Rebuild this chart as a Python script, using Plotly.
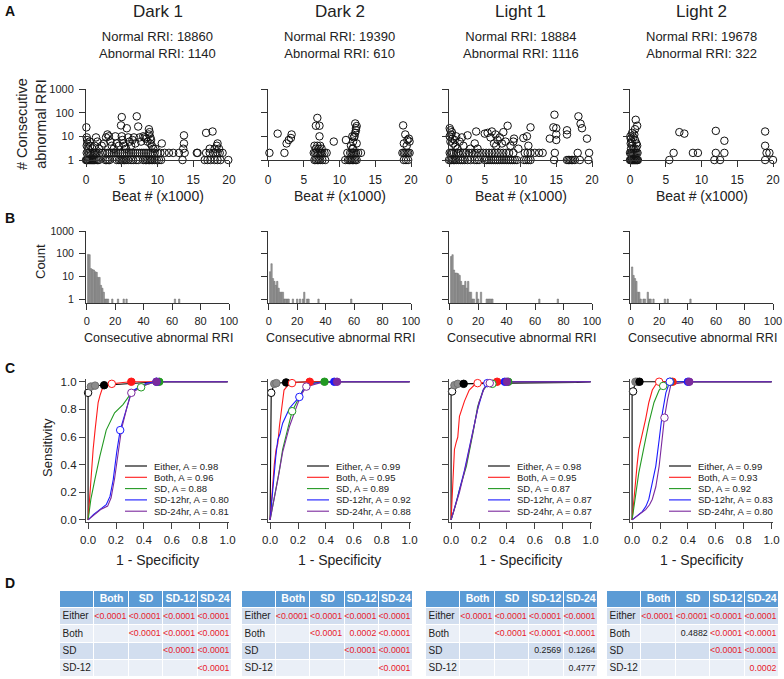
import plotly.graph_objects as go

W, H = 784, 679
FONT = "Liberation Sans, Arial, sans-serif"

# ---------------- data ----------------
conditions = ["Dark 1", "Dark 2", "Light 1", "Light 2"]
normal_rri = [18860, 19390, 18884, 19678]
abnormal_rri = [1140, 610, 1116, 322]

# Panel A: beat position (x1000) of abnormal runs and run length
d1_ones = [0.0, 0.1, 0.2, 0.3, 0.45, 0.6, 0.75, 0.9, 1.05, 1.2, 1.4, 1.6, 1.8, 2.7, 2.9, 3.1, 3.3, 4.3, 4.6,
           4.8, 5.0, 5.2, 5.4, 5.6, 5.9, 6.3, 6.6, 7.0, 7.3, 8.0, 8.3, 8.5, 8.7, 8.9, 9.1, 9.3, 9.6, 9.9,
           10.2, 10.5, 13.5, 16.6, 17.0, 17.4, 18.0, 18.4, 18.8, 19.9]
d1_twos = [0.1, 0.3, 0.5, 0.7, 0.9, 1.1, 1.3, 1.5, 1.9, 2.3, 2.7, 3.0, 3.3, 3.6, 3.9, 4.2, 4.5, 4.8, 5.1,
           5.4, 5.7, 6.0, 6.3, 6.6, 6.9, 7.2, 7.5, 7.8, 8.1, 8.4, 8.7, 9.0, 9.3, 9.6, 10.0, 10.4, 11.0,
           11.6, 12.2, 13.0, 13.8, 15.5, 15.6, 16.8, 17.3, 17.8, 18.1, 18.4, 18.7, 19.1]
d1_other_x = [0.05, 0.1, 0.15, 0.2, 0.1, 0.3, 0.5, 0.6, 0.9, 1.2, 1.4, 1.6, 1.8, 2.2, 2.5, 2.8, 3.0, 3.2,
              3.4, 3.6, 3.9, 4.1, 4.3, 4.6, 4.9, 5.0, 5.0, 5.1, 5.2, 5.4, 5.6, 5.7, 5.9, 6.1, 6.3, 6.5,
              6.7, 6.9, 7.1, 7.3, 7.5, 7.7, 8.0, 8.2, 8.4, 8.6, 8.8, 8.9, 8.8, 9.0, 9.1, 9.0, 9.2, 9.4,
              9.7, 10.6, 13.7, 13.7, 13.6, 16.8, 17.7, 17.3, 18.0, 18.4, 18.3, 18.6]
d1_other_y = [24, 9, 7, 5, 4, 3, 6, 4, 3, 4, 9, 6, 3, 4, 5, 9, 12, 10, 6, 4, 3, 10, 5, 4, 29, 65, 10, 7,
              5, 4, 3, 22, 9, 6, 4, 7, 9, 5, 70, 26, 9, 6, 10, 9, 8, 6, 20, 15, 12, 9, 7, 5, 4, 3, 3, 5,
              11, 5, 3, 14, 16, 3, 3, 5, 4, 3]

d2_ones = [6.5, 6.7, 6.9, 7.1, 7.3, 7.6, 8.0, 10.8, 11.2, 11.4, 11.6, 11.8, 12.0, 12.2, 12.4, 19.0, 19.3, 19.6]
d2_twos = [0.2, 2.3, 6.4, 6.6, 6.8, 7.0, 7.2, 7.4, 7.6, 7.9, 8.2, 11.1, 11.5, 11.7, 11.9, 12.1, 12.3, 12.6,
           13.0, 18.8, 19.0, 19.2, 19.4, 19.6, 19.8]
d2_other_x = [1.35, 2.6, 2.9, 3.2, 3.3, 6.9, 6.7, 7.2, 7.2, 6.5, 6.7, 6.9, 7.1, 7.3, 7.5, 9.2, 10.9, 11.6,
              11.8, 11.9, 12.0, 12.1, 11.8, 12.2, 12.3, 12.2, 12.4, 12.3, 11.9, 12.4, 18.9, 19.2, 19.0,
              19.5, 19.7, 19.4, 19.8]
d2_other_y = [13, 5, 7, 8.5, 12, 60, 28, 28, 10, 4, 3, 4, 3, 4, 3, 6, 7, 4, 3, 6, 9, 10, 10, 14, 22, 35,
              27, 18, 3, 5, 29, 12, 5, 7, 8, 4, 6]

l1_ones = [0.0, 0.2, 0.4, 0.6, 0.8, 1.0, 1.3, 1.6, 1.9, 2.2, 2.6, 3.0, 3.6, 3.9, 4.2, 5.0, 5.3, 5.6, 5.9,
           6.2, 6.5, 6.8, 7.1, 7.4, 7.7, 8.0, 8.3, 8.6, 8.9, 9.2, 9.5, 10.5, 10.8, 11.1, 11.4, 14.7, 16.5,
           16.7, 16.9, 17.1, 17.3, 17.6, 18.3, 19.5]
l1_twos = [0.1, 0.3, 0.5, 0.7, 1.0, 1.3, 1.6, 2.0, 2.4, 2.8, 3.2, 3.6, 4.0, 4.4, 4.8, 5.2, 5.6, 6.0, 6.4,
           6.8, 7.2, 7.6, 8.0, 8.4, 9.0, 10.6, 11.0, 11.4, 12.0, 12.6, 13.1, 14.8, 18.0, 19.6]
l1_other_x = [14.75, 18.1, 18.4, 18.6, 8.2, 11.4, 14.6, 15.0, 16.5, 16.5, 19.3, 15.0, 15.0, 14.1, 10.4,
              10.9, 11.1, 0.1, 0.2, 0.4, 0.3, 0.1, 0.5, 0.2, 0.6, 0.8, 1.0, 0.9, 1.2, 1.5, 1.8, 2.0, 2.6,
              3.0, 3.8, 3.6, 4.0, 5.0, 5.4, 5.8, 6.0, 6.3, 6.5, 6.8, 6.6, 7.1, 7.4, 7.6, 7.9, 8.6, 9.1,
              9.0, 9.7]
l1_other_y = [82, 70, 34, 22, 28, 24, 24, 22, 18, 12, 8, 12, 7, 8, 8.5, 10, 4, 22, 18, 15, 12, 10, 8, 6,
              5, 7, 10, 4, 3, 6, 9, 4, 11, 3, 16, 5, 3, 13, 14, 9, 16, 5, 12, 7, 4, 9, 5, 15, 6, 4, 8, 6, 3]

l2_ones = [0.0, 0.1, 0.2, 0.3, 0.4, 0.5, 0.6, 0.7, 0.8, 0.9, 1.0, 1.1, 5.5, 11.8, 12.6, 18.9, 20.0]
l2_twos = [0.0, 0.15, 0.3, 0.45, 0.6, 0.75, 0.9, 1.05, 6.1, 8.8, 9.5, 12.0, 13.2, 19.1, 19.5]
l2_other_x = [0.05, 0.1, 0.2, 0.1, 0.3, 0.15, 0.5, 0.6, 0.3, 0.8, 1.0, 0.7, 0.9, 0.8, 1.0, 0.5, 0.7, 6.9,
              7.6, 12.0, 13.2, 18.9, 18.9]
l2_other_y = [10, 8, 6, 5, 4, 3, 9, 12, 14, 50, 28, 7, 5, 3, 4, 3, 20, 15, 13, 17, 6.5, 16, 4]

# Panel B: histogram of consecutive abnormal RRI run lengths
d1_len = [1, 2, 3, 4, 5, 6, 7, 8, 9, 10, 11, 12, 13, 14, 15, 18, 22, 26, 28, 62, 65]
d1_cnt = [93, 90, 22, 20, 19, 16, 15, 9, 9, 4, 3, 2, 1, 1, 1, 1, 1, 1, 1, 1, 1]
d2_len = [1, 2, 3, 4, 5, 6, 7, 8, 9, 10, 11, 12, 13, 14, 17, 20, 22, 24, 25, 27, 28, 35, 58]
d2_cnt = [16, 36, 8, 6, 4, 6, 3, 2, 2, 2, 1, 1, 1, 1, 1, 1, 1, 1, 2, 1, 1, 1, 1]
l1_len = [1, 2, 3, 4, 5, 6, 7, 8, 9, 10, 11, 12, 13, 14, 15, 16, 17, 19, 20, 22, 26, 27, 28, 29, 30, 63, 76]
l1_cnt = [75, 90, 19, 14, 14, 13, 11, 6, 4, 4, 6, 3, 6, 2, 2, 1, 1, 2, 1, 2, 1, 1, 1, 1, 1, 1, 1]
l2_len = [1, 2, 3, 4, 5, 6, 7, 9, 10, 12, 13, 14, 16, 24, 26, 42]
l2_cnt = [26, 11, 8, 6, 2, 2, 1, 1, 1, 2, 1, 1, 1, 1, 1, 1]

# Panel C: ROC curves (1 - specificity, sensitivity); order Either, Both, SD, SD-12hr, SD-24hr
series_names = ["Either", "Both", "SD", "SD-12hr", "SD-24hr"]
auc = [[0.98, 0.96, 0.88, 0.80, 0.81],
       [0.99, 0.95, 0.89, 0.92, 0.88],
       [0.98, 0.95, 0.87, 0.87, 0.87],
       [0.99, 0.93, 0.92, 0.83, 0.80]]

d1_fpr = [[0, 0, 0.02, 0.05, 0.115, 0.3, 0.5, 1.0],
          [0, 0.012, 0.025, 0.036, 0.05, 0.06, 0.072, 0.085, 0.1, 0.13, 0.17, 0.25, 0.31, 1.0],
          [0, 0.02, 0.048, 0.084, 0.13, 0.19, 0.25, 0.31, 0.37, 0.45, 0.51, 1.0],
          [0, 0.04, 0.084, 0.13, 0.157, 0.18, 0.205, 0.23, 0.28, 0.31, 0.42, 0.49, 1.0],
          [0, 0.05, 0.09, 0.14, 0.165, 0.19, 0.215, 0.24, 0.28, 0.31, 0.42, 0.49, 1.0]]
d1_tpr = [[0, 0.92, 0.965, 0.972, 0.975, 0.985, 1.0, 1.0],
          [0, 0.2, 0.4, 0.51, 0.65, 0.75, 0.85, 0.9, 0.945, 0.97, 0.985, 0.995, 1.0, 1.0],
          [0, 0.15, 0.29, 0.46, 0.65, 0.775, 0.835, 0.92, 0.965, 0.99, 1.0, 1.0],
          [0, 0.04, 0.075, 0.11, 0.17, 0.29, 0.49, 0.65, 0.82, 0.93, 0.99, 1.0, 1.0],
          [0, 0.04, 0.075, 0.1, 0.16, 0.3, 0.5, 0.66, 0.82, 0.92, 0.98, 1.0, 1.0]]
d2_fpr = [[0, 0.008, 0.03, 0.045, 0.115, 0.3, 1.0],
          [0, 0.01, 0.02, 0.03, 0.043, 0.055, 0.067, 0.087, 0.1, 0.14, 0.157, 0.284, 1.0],
          [0, 0.02, 0.043, 0.065, 0.09, 0.127, 0.158, 0.2, 0.25, 0.3, 0.39, 1.0],
          [0, 0.01, 0.024, 0.04, 0.055, 0.07, 0.09, 0.14, 0.21, 0.26, 0.35, 0.46, 1.0],
          [0, 0.03, 0.055, 0.09, 0.14, 0.19, 0.22, 0.26, 0.35, 0.48, 1.0]]
d2_tpr = [[0, 0.92, 0.985, 0.99, 0.995, 1.0, 1.0],
          [0, 0.15, 0.29, 0.4, 0.51, 0.55, 0.68, 0.82, 0.94, 0.99, 0.995, 1.0, 1.0],
          [0, 0.1, 0.22, 0.35, 0.51, 0.65, 0.787, 0.87, 0.97, 0.99, 1.0, 1.0],
          [0, 0.12, 0.29, 0.45, 0.58, 0.62, 0.7, 0.81, 0.89, 0.98, 0.995, 1.0, 1.0],
          [0, 0.15, 0.29, 0.49, 0.68, 0.82, 0.9, 0.965, 0.99, 1.0, 1.0]]
l1_fpr = [[0, 0.0, 0.007, 0.024, 0.048, 0.09, 0.4, 0.9, 1.0],
          [0, 0.006, 0.012, 0.024, 0.036, 0.048, 0.06, 0.08, 0.096, 0.13, 0.17, 0.19, 0.33, 1.0],
          [0, 0.03, 0.06, 0.11, 0.157, 0.19, 0.23, 0.26, 0.296, 0.41, 1.0],
          [0, 0.048, 0.096, 0.145, 0.19, 0.23, 0.26, 0.385, 1.0],
          [0, 0.06, 0.11, 0.157, 0.2, 0.24, 0.277, 0.4, 1.0]]
l1_tpr = [[0, 0.9, 0.93, 0.975, 0.985, 0.985, 0.99, 0.995, 1.0],
          [0, 0.15, 0.29, 0.51, 0.56, 0.6, 0.75, 0.82, 0.86, 0.94, 0.98, 0.99, 1.0, 1.0],
          [0, 0.1, 0.22, 0.39, 0.63, 0.82, 0.94, 0.975, 0.985, 1.0, 1.0],
          [0, 0.17, 0.36, 0.58, 0.8, 0.94, 0.99, 1.0, 1.0],
          [0, 0.2, 0.41, 0.63, 0.85, 0.96, 0.99, 1.0, 1.0]]
l2_fpr = [[0, 0.0, 0.007, 0.024, 0.037, 0.053, 1.0],
          [0, 0.012, 0.024, 0.036, 0.048, 0.06, 0.073, 0.097, 0.12, 0.145, 0.17, 0.194, 0.29, 1.0],
          [0, 0.012, 0.024, 0.048, 0.085, 0.12, 0.157, 0.194, 0.223, 0.274, 1.0],
          [0, 0.04, 0.073, 0.1, 0.12, 0.145, 0.17, 0.194, 0.218, 0.242, 0.266, 0.27, 0.4, 1.0],
          [0, 0.05, 0.097, 0.125, 0.145, 0.17, 0.194, 0.218, 0.232, 0.254, 0.278, 0.41, 1.0]]
l2_tpr = [[0, 0.9, 0.93, 1.0, 1.0, 1.0, 1.0],
          [0, 0.15, 0.27, 0.4, 0.51, 0.56, 0.63, 0.73, 0.85, 0.94, 0.98, 1.0, 1.0, 1.0],
          [0, 0.1, 0.17, 0.34, 0.53, 0.7, 0.85, 0.94, 0.97, 1.0, 1.0],
          [0, 0.03, 0.06, 0.1, 0.15, 0.27, 0.39, 0.58, 0.78, 0.92, 0.99, 1.0, 1.0, 1.0],
          [0, 0.04, 0.075, 0.11, 0.15, 0.24, 0.39, 0.61, 0.74, 0.87, 0.98, 1.0, 1.0]]

# threshold points on the ROC curves: series index and point kind
pt_series = [0, 0, 0, 0, 1, 1, 2, 2, 3, 3, 4, 4]
pt_kind = ["open", "mid", "mid", "filled", "open", "filled", "open", "filled", "open", "filled", "open", "filled"]
d1_pt_x = [0.0, 0.02, 0.05, 0.115, 0.17, 0.31, 0.38, 0.51, 0.23, 0.49, 0.31, 0.49]
d1_pt_y = [0.92, 0.965, 0.972, 0.975, 0.985, 1.0, 0.96, 1.0, 0.65, 1.0, 0.92, 1.0]
d2_pt_x = [0.008, 0.03, 0.045, 0.115, 0.157, 0.284, 0.158, 0.39, 0.21, 0.46, 0.26, 0.48]
d2_pt_y = [0.92, 0.985, 0.99, 0.995, 0.99, 1.0, 0.787, 1.0, 0.89, 1.0, 0.965, 1.0]
l1_pt_x = [0.007, 0.024, 0.048, 0.09, 0.19, 0.33, 0.296, 0.41, 0.26, 0.385, 0.277, 0.40]
l1_pt_y = [0.93, 0.975, 0.985, 0.985, 0.99, 1.0, 0.985, 1.0, 0.99, 1.0, 0.99, 1.0]
l2_pt_x = [0.007, 0.024, 0.037, 0.053, 0.194, 0.29, 0.223, 0.274, 0.27, 0.40, 0.232, 0.41]
l2_pt_y = [0.93, 1.0, 1.0, 1.0, 1.0, 1.0, 0.97, 1.0, 1.0, 1.0, 0.74, 1.0]

# Panel D: pairwise p-values
tbl_cols = ["Both", "SD", "SD-12", "SD-24"]
tbl_rows = ["Either", "Both", "SD", "SD-12"]
p_dark1 = [["<0.0001", "<0.0001", "<0.0001", "<0.0001"],
           ["", "<0.0001", "<0.0001", "<0.0001"],
           ["", "", "<0.0001", "<0.0001"],
           ["", "", "", "<0.0001"]]
p_dark2 = [["<0.0001", "<0.0001", "<0.0001", "<0.0001"],
           ["", "<0.0001", "0.0002", "<0.0001"],
           ["", "", "<0.0001", "<0.0001"],
           ["", "", "", "<0.0001"]]
p_light1 = [["<0.0001", "<0.0001", "<0.0001", "<0.0001"],
            ["", "<0.0001", "<0.0001", "<0.0001"],
            ["", "", "0.2569", "0.1264"],
            ["", "", "", "0.4777"]]
p_light2 = [["<0.0001", "<0.0001", "<0.0001", "<0.0001"],
            ["", "0.4882", "<0.0001", "<0.0001"],
            ["", "", "<0.0001", "<0.0001"],
            ["", "", "", "0.0002"]]

# ---------------- figure ----------------
scatter_sets = [(d1_ones, d1_twos, d1_other_x, d1_other_y), (d2_ones, d2_twos, d2_other_x, d2_other_y),
                (l1_ones, l1_twos, l1_other_x, l1_other_y), (l2_ones, l2_twos, l2_other_x, l2_other_y)]
hist_sets = [(d1_len, d1_cnt), (d2_len, d2_cnt), (l1_len, l1_cnt), (l2_len, l2_cnt)]
roc_sets = [(d1_fpr, d1_tpr), (d2_fpr, d2_tpr), (l1_fpr, l1_tpr), (l2_fpr, l2_tpr)]
pt_sets = [(d1_pt_x, d1_pt_y), (d2_pt_x, d2_pt_y), (l1_pt_x, l1_pt_y), (l2_pt_x, l2_pt_y)]
p_sets = [p_dark1, p_dark2, p_light1, p_light2]

series_colors = ["#000000", "#ff1a1a", "#229922", "#1a1aff", "#7b2a9e"]
AXC = "#333333"
TXT = "#222222"
HEADER_BLUE = "#5b9bd5"
BAND1 = "#d2deef"
BAND2 = "#eaeff7"
RED = "#e8202a"

COL_LEFT = [86, 268, 449, 630]
PW = 143
TABLE_X = [(60, 232), (242, 413), (426, 598), (607, 779)]
TABLE_Y = (591, 677)


def fx(p):
    return p / W


def fy(p):
    return 1 - p / H


def ref(n):
    return "" if n == 1 else str(n)


fig = go.Figure()
layout = dict(template="none", width=W, height=H, margin=dict(l=0, r=0, t=0, b=0, pad=0),
              paper_bgcolor="white", plot_bgcolor="white", showlegend=False,
              font=dict(family=FONT, color=TXT))
annotations = []
shapes = []

log_ticks = [1, 10, 100, 1000]
log_text = ["1", "10", "100", "1000"]


def base_axis(**kw):
    d = dict(showline=True, linecolor=AXC, linewidth=1, ticks="outside", ticklen=6, tickcolor=AXC,
             tickwidth=1, showgrid=False, zeroline=False, automargin=False)
    d.update(kw)
    return d


for c in range(4):
    left = COL_LEFT[c]
    xdom = [fx(left), fx(left + PW)]
    center = left + PW / 2

    # ---- row A ----
    n = c + 1
    ones, twos, ox, oy = scatter_sets[c]
    xs = list(ones) + list(twos) + list(ox)
    ys = [1] * len(ones) + [2] * len(twos) + list(oy)
    fig.add_trace(go.Scatter(x=xs, y=ys, mode="markers", xaxis="x" + ref(n), yaxis="y" + ref(n),
                             cliponaxis=False,
                             marker=dict(symbol="circle-open", size=7.5, color="#111", line=dict(width=1))))
    layout["xaxis" + ref(n)] = base_axis(domain=xdom, anchor="y" + ref(n), range=[0, 20],
                                         tickvals=[0, 5, 10, 15, 20], ticklabelstandoff=3,
                                         tickfont=dict(size=12, color=TXT))
    layout["yaxis" + ref(n)] = base_axis(domain=[fy(160), fy(89)], anchor="x" + ref(n), type="log", range=[0, 3],
                                         tickmode="array", tickvals=log_ticks, ticktext=log_text,
                                         showticklabels=(c == 0), ticklabelstandoff=3,
                                         tickfont=dict(size=11, color=TXT))
    annotations.append(dict(text="Beat # (x1000)", x=fx(center), y=fy(196), xref="paper", yref="paper",
                            showarrow=False, font=dict(size=14), xanchor="center", yanchor="middle"))
    annotations.append(dict(text=conditions[c], x=fx(center), y=fy(11), xref="paper", yref="paper",
                            showarrow=False, font=dict(size=17), xanchor="center", yanchor="middle"))
    annotations.append(dict(text=f"Normal RRI: {normal_rri[c]}<br>Abnormal RRI: {abnormal_rri[c]}",
                            x=fx(center), y=fy(45), xref="paper", yref="paper", showarrow=False,
                            font=dict(size=13), xanchor="center", yanchor="middle"))

    # ---- row B ----
    n = c + 5
    lens, cnts = hist_sets[c]
    fig.add_trace(go.Bar(x=lens, y=cnts, width=0.95, xaxis="x" + ref(n), yaxis="y" + ref(n),
                         marker=dict(color="#a0a0a0", line=dict(color="#666666", width=0.5))))
    layout["xaxis" + ref(n)] = base_axis(domain=xdom, anchor="y" + ref(n), range=[-0.5, 100],
                                         tickvals=[0, 20, 40, 60, 80, 100], ticklabelstandoff=2,
                                         tickfont=dict(size=11, color=TXT))
    layout["yaxis" + ref(n)] = base_axis(domain=[fy(303), fy(231)], anchor="x" + ref(n), type="log",
                                         range=[-0.176, 3], tickmode="array", tickvals=log_ticks,
                                         ticktext=log_text, showticklabels=(c == 0), ticklabelstandoff=3,
                                         tickfont=dict(size=10.5, color=TXT))
    annotations.append(dict(text="Consecutive abnormal RRI", x=fx(center + 1), y=fy(338), xref="paper",
                            yref="paper", showarrow=False, font=dict(size=12.5), xanchor="center",
                            yanchor="middle"))

    # ---- row C ----
    n = c + 9
    fpr, tpr = roc_sets[c]
    for s in range(5):
        fig.add_trace(go.Scatter(x=fpr[s], y=tpr[s], mode="lines", xaxis="x" + ref(n), yaxis="y" + ref(n),
                                 line=dict(color=series_colors[s], width=1.1)))
    px_, py_ = pt_sets[c]
    fills, edges = [], []
    for s, k in zip(pt_series, pt_kind):
        if k == "open":
            fills.append("white")
            edges.append(series_colors[s])
        elif k == "mid":
            fills.append("#8c8c8c")
            edges.append("#707070")
        else:
            fills.append(series_colors[s])
            edges.append(series_colors[s])
    fig.add_trace(go.Scatter(x=px_, y=py_, mode="markers", xaxis="x" + ref(n), yaxis="y" + ref(n),
                             cliponaxis=False,
                             marker=dict(size=7.5, color=fills, line=dict(color=edges, width=1))))
    layout["xaxis" + ref(n)] = base_axis(domain=xdom, anchor="y" + ref(n), range=[-0.015, 1.01],
                                         tickvals=[0, 0.2, 0.4, 0.6, 0.8, 1.0], tickformat=".1f",
                                         linecolor="#444", linewidth=1.3, tickcolor="#444", ticklabelstandoff=1,
                                         tickfont=dict(size=11.5, color=TXT))
    layout["yaxis" + ref(n)] = base_axis(domain=[fy(522), fy(379)], anchor="x" + ref(n), range=[-0.015, 1.02],
                                         tickvals=[0, 0.2, 0.4, 0.6, 0.8, 1.0], tickformat=".1f",
                                         showticklabels=(c == 0), linecolor="#444", linewidth=1.3,
                                         tickcolor="#444", tickfont=dict(size=11.5, color=TXT))
    annotations.append(dict(text="1 - Specificity", x=fx(center), y=fy(560), xref="paper", yref="paper",
                            showarrow=False, font=dict(size=14), xanchor="center", yanchor="middle"))
    # in-panel legend
    for s in range(5):
        yy = fy(466 + 11.3 * s)
        shapes.append(dict(type="line", xref="x" + ref(n) + " domain", yref="paper", x0=39 / PW, x1=61 / PW,
                           y0=yy, y1=yy, line=dict(color=series_colors[s], width=1.1)))
        annotations.append(dict(text=f"{series_names[s]}, A = {auc[c][s]:.2f}", xref="x" + ref(n) + " domain",
                                yref="paper", x=66 / PW, y=yy, xanchor="left", yanchor="middle",
                                showarrow=False, font=dict(size=9.5)))

    # ---- row D: p-value table drawn as a heatmap grid with text ----
    n = c + 13
    pv = p_sets[c]
    tl, tr = TABLE_X[c]
    ncol = len(tbl_cols) + 1
    nrow = len(tbl_rows) + 1
    zgrid = [[2] * ncol] + [[r % 2] * ncol for r in range(len(tbl_rows))]
    fig.add_trace(go.Heatmap(z=zgrid, x=list(range(ncol)), y=list(range(nrow)), xaxis="x" + ref(n),
                             yaxis="y" + ref(n), zmin=0, zmax=2, showscale=False, xgap=1, ygap=1,
                             hoverinfo="skip",
                             colorscale=[[0, BAND1], [0.5, BAND2], [1, HEADER_BLUE]]))
    fig.add_trace(go.Scatter(x=list(range(1, ncol)), y=[0] * len(tbl_cols), mode="text",
                             text=[f"<b>{h}</b>" for h in tbl_cols], textposition="middle center",
                             xaxis="x" + ref(n), yaxis="y" + ref(n), hoverinfo="skip",
                             textfont=dict(color="white", size=10.5, family=FONT)))
    pad = 2.5 / ((tr - tl) / ncol)
    fig.add_trace(go.Scatter(x=[-0.5 + pad] * len(tbl_rows), y=list(range(1, nrow)), mode="text",
                             text=tbl_rows, textposition="middle right", xaxis="x" + ref(n),
                             yaxis="y" + ref(n), hoverinfo="skip",
                             textfont=dict(color="#222", size=10, family=FONT)))
    vx, vy, vt, vc = [], [], [], []
    for r in range(len(tbl_rows)):
        for k in range(len(tbl_cols)):
            v = pv[r][k]
            if v == "":
                continue
            sig = v.startswith("<") or float(v) < 0.05
            vx.append(k + 1 + 0.5 - pad)
            vy.append(r + 1)
            vt.append(v)
            vc.append(RED if sig else "#222")
    fig.add_trace(go.Scatter(x=vx, y=vy, mode="text", text=vt, textposition="middle left",
                             xaxis="x" + ref(n), yaxis="y" + ref(n), hoverinfo="skip",
                             textfont=dict(color=vc, size=8.8, family=FONT)))
    layout["xaxis" + ref(n)] = dict(domain=[fx(tl), fx(tr)], anchor="y" + ref(n), range=[-0.5, ncol - 0.5],
                                    visible=False, automargin=False, fixedrange=True)
    layout["yaxis" + ref(n)] = dict(domain=[fy(TABLE_Y[1]), fy(TABLE_Y[0])], anchor="x" + ref(n),
                                    range=[nrow - 0.5, -0.5], visible=False, automargin=False, fixedrange=True)

# row-level labels
for letter, yy in [("A", 11), ("B", 218), ("C", 368), ("D", 583)]:
    annotations.append(dict(text=f"<b>{letter}</b>", x=fx(3), y=fy(yy), xref="paper", yref="paper",
                            showarrow=False, font=dict(size=14, color="#111"), xanchor="left",
                            yanchor="middle"))
annotations.append(dict(text="# Consecutive<br>abnormal RRI", x=fx(31), y=fy(124), xref="paper", yref="paper",
                        showarrow=False, textangle=-90, font=dict(size=14.5), xanchor="center",
                        yanchor="middle"))
annotations.append(dict(text="Count", x=fx(40), y=fy(262), xref="paper", yref="paper", showarrow=False,
                        textangle=-90, font=dict(size=13), xanchor="center", yanchor="middle"))
annotations.append(dict(text="Sensitivity", x=fx(47), y=fy(448), xref="paper", yref="paper", showarrow=False,
                        textangle=-90, font=dict(size=13), xanchor="center", yanchor="middle"))

layout["annotations"] = annotations
layout["shapes"] = shapes
fig.update_layout(**layout)
fig.write_html("out.html", config={"displayModeBar": False},
               post_script="document.body.style.margin='0px';document.body.style.overflow='hidden';")
